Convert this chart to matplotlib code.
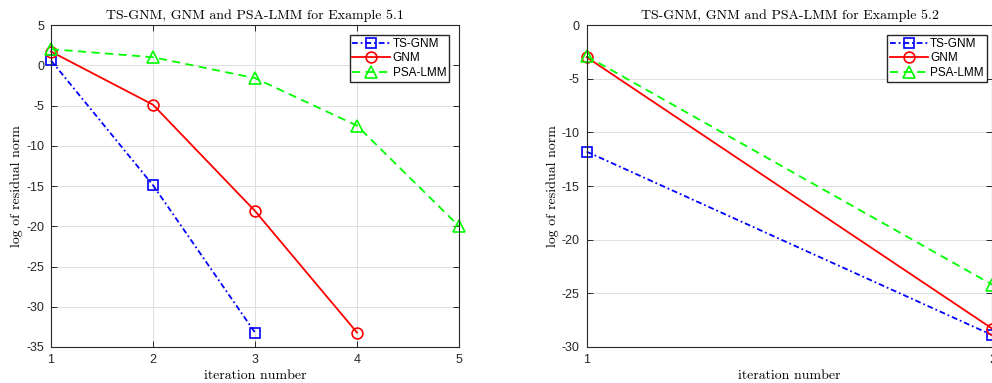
import numpy as np
import matplotlib
matplotlib.use('Agg')
import matplotlib.pyplot as plt

# data
it1 = [1, 2, 3, 4, 5]
ts_gnm_1 = [0.6, -14.9, -33.2]
gnm_1 = [1.7, -4.9, -18.1, -33.2]
psa_1 = [2.0, 1.0, -1.6, -7.5, -20.0]

it2 = [1, 2]
ts_gnm_2 = [-11.8, -28.9]
gnm_2 = [-3.0, -28.3]
psa_2 = [-2.9, -24.2]

titles = ['TS-GNM, GNM and PSA-LMM for Example 5.1',
          'TS-GNM, GNM and PSA-LMM for Example 5.2']
names = ['TS-GNM', 'GNM', 'PSA-LMM']

plt.rcParams['axes.unicode_minus'] = False
plt.rcParams['font.family'] = ['Liberation Sans', 'DejaVu Sans']

serif = ['cmr10', 'DejaVu Serif']
edge = (0.15, 0.15, 0.15)

fig = plt.figure(figsize=(9.92, 3.83), dpi=100)
ax1 = fig.add_axes([0.0514, 0.094, 0.4113, 0.8407])
ax2 = fig.add_axes([0.5914, 0.094, 0.4090, 0.8407])

def draw(ax, x_ts, ts, x_g, g, x_p, p):
    ax.plot(x_ts, ts, color='b', marker='s', mfc='none', ms=6.8, mew=1.2, lw=1.3,
            dashes=(3.2, 1.6, 1, 1.6), label=names[0], clip_on=False)
    ax.plot(x_g, g, '-', color='r', marker='o', mfc='none', ms=7.8, mew=1.2, lw=1.3,
            label=names[1], clip_on=False)
    ax.plot(x_p, p, color=(0, 1, 0), marker='^', mfc='none', ms=9, mew=1.2, lw=1.3,
            dashes=(4.5, 3), label=names[2], clip_on=False)
    ax.grid(True, color=(0.87, 0.87, 0.87), lw=0.7)
    ax.set_axisbelow(True)
    for s in ax.spines.values():
        s.set_color(edge)
        s.set_linewidth(0.8)
    ax.tick_params(direction='in', top=True, right=True, length=4, width=0.7,
                   colors=edge, labelsize=9, pad=5)
    ax.set_xlabel('iteration number', family=serif, fontsize=10, labelpad=3)
    ax.set_ylabel('log of residual norm', family=serif, fontsize=10, labelpad=2)

draw(ax1, it1[:3], ts_gnm_1, it1[:4], gnm_1, it1, psa_1)
ax1.set_xlim(1, 5)
ax1.set_ylim(-35, 5)
ax1.set_xticks(it1)
ax1.set_yticks(np.arange(-35, 6, 5))
ax1.set_title(titles[0], family=serif, fontsize=10, pad=4)
ax1.legend(loc='upper right', bbox_to_anchor=(0.976, 0.969), fontsize=8.5,
           fancybox=False, edgecolor=edge, framealpha=1, handlelength=3.2,
           borderpad=0.25, labelspacing=0.2, handletextpad=0.2, borderaxespad=0)

draw(ax2, it2, ts_gnm_2, it2, gnm_2, it2, psa_2)
ax2.set_xlim(1, 2)
ax2.set_ylim(-30, 0)
ax2.set_xticks(it2)
ax2.set_yticks(np.arange(-30, 1, 5))
ax2.set_title(titles[1], family=serif, fontsize=10, pad=4)
ax2.legend(loc='upper right', bbox_to_anchor=(0.9855, 0.969), fontsize=8.5,
           fancybox=False, edgecolor=edge, framealpha=1, handlelength=3.2,
           borderpad=0.25, labelspacing=0.2, handletextpad=0.2, borderaxespad=0)

plt.savefig('out.png', dpi=100)
